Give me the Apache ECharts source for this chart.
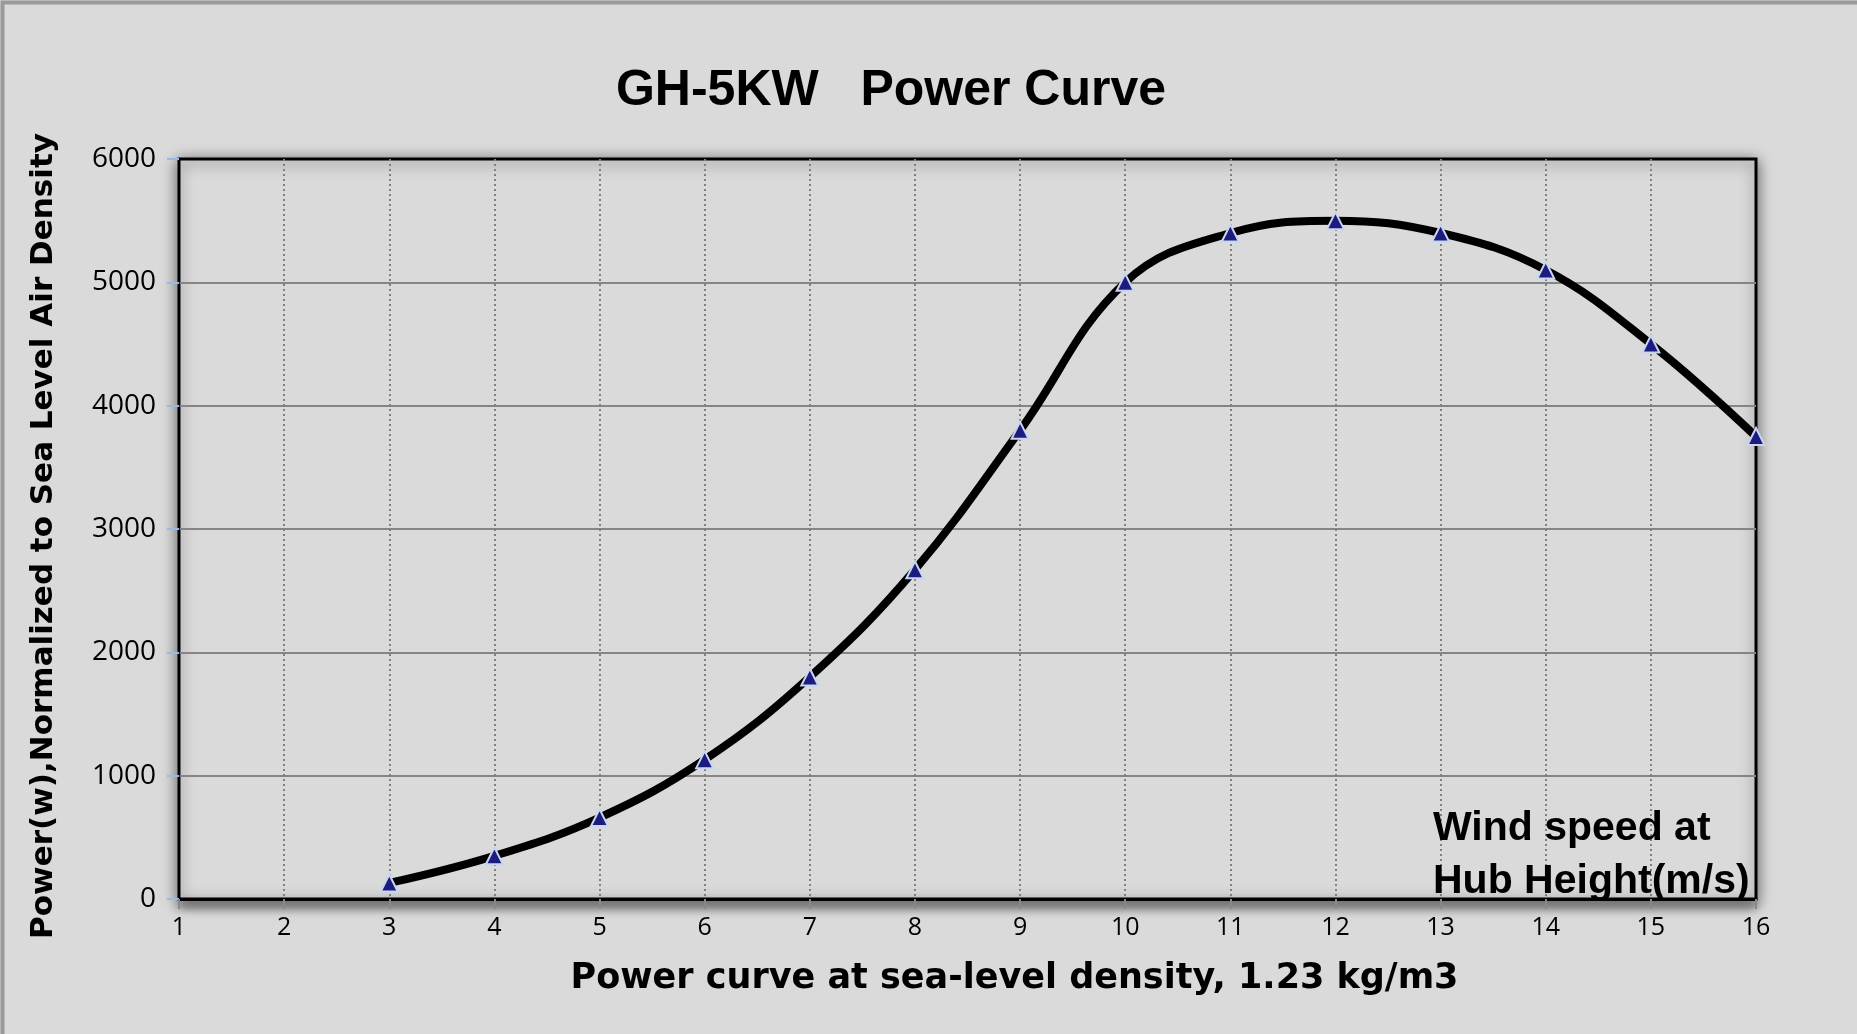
<!DOCTYPE html>
<html lang="en" style="height: 100%">
<head>
  <meta charset="utf-8">
</head>
<body style="height: 100%; margin: 0; background: #dadada">
  <div id="container" style="height: 100%"></div>
  <script type="text/javascript" src="https://fastly.jsdelivr.net/npm/echarts@6.0.0/dist/echarts.min.js"></script>
  <script type="text/javascript">
    // wind speed (m/s) at hub height
    var windSpeed = [3, 4, 5, 6, 7, 8, 9, 10, 11, 12, 13, 14, 15, 16];
    // power (w)
    var power = [130, 350, 660, 1130, 1800, 2670, 3800, 5000, 5400, 5500, 5400, 5100, 4500, 3750];
    var xTicks = [1, 2, 3, 4, 5, 6, 7, 8, 9, 10, 11, 12, 13, 14, 15, 16];
    var yTicks = [0, 1000, 2000, 3000, 4000, 5000, 6000];

    var chartTitle = 'GH-5KW   Power Curve';
    var xName = 'Power curve at sea-level density, 1.23 kg/m3';
    var yName = 'Power(w),Normalized to Sea Level Air Density';
    var note = 'Wind speed at\nHub Height(m/s)';

    var dom = document.getElementById('container');
    var myChart = echarts.init(dom, null, { renderer: 'canvas' });

    var points = windSpeed.map(function (w, i) { return [w, power[i]]; });

    var option = {
      backgroundColor: '#dadada',
      animation: false,
      title: {
        text: chartTitle,
        left: 886,
        top: 86,
        textAlign: 'center',
        textVerticalAlign: 'middle',
        textStyle: {
          fontFamily: 'Liberation Sans',
          fontWeight: 'bold',
          fontSize: 50,
          color: '#000'
        }
      },
      grid: {
        show: true,
        left: 179,
        right: 101,
        top: 159,
        bottom: 135,
        backgroundColor: '#dadada',
        borderColor: '#000',
        borderWidth: 3,
        shadowColor: 'rgba(0,0,0,0.55)',
        shadowBlur: 14,
        shadowOffsetY: 3
      },
      xAxis: {
        type: 'value',
        min: xTicks[0],
        max: xTicks[xTicks.length - 1],
        interval: 1,
        name: xName,
        nameLocation: 'middle',
        nameGap: 62,
        nameTextStyle: {
          fontFamily: 'DejaVu Sans',
          fontWeight: 'bold',
          fontSize: 35,
          color: '#000',
          padding: [0, 0, 0, 94]
        },
        axisLine: {
          onZero: false,
          lineStyle: {
            color: '#000',
            width: 3,
            shadowColor: 'rgba(0,0,0,0.7)',
            shadowBlur: 8,
            shadowOffsetY: 6
          }
        },
        axisTick: { show: true, length: 10, lineStyle: { color: '#888', width: 2 } },
        axisLabel: {
          margin: 16,
          fontFamily: 'Open Sans',
          fontSize: 25,
          color: '#000'
        },
        splitLine: {
          show: true,
          showMinLine: false,
          showMaxLine: false,
          lineStyle: { color: '#808080', width: 2, type: [2, 3] }
        }
      },
      yAxis: {
        type: 'value',
        min: yTicks[0],
        max: yTicks[yTicks.length - 1],
        interval: 1000,
        name: yName,
        nameLocation: 'middle',
        nameGap: 120,
        nameTextStyle: {
          fontFamily: 'DejaVu Sans',
          fontWeight: 'bold',
          fontSize: 31,
          color: '#000',
          padding: [0, 14, 0, 0]
        },
        axisLine: { show: true, lineStyle: { color: '#000', width: 1.5 } },
        axisTick: { show: true, length: 12, lineStyle: { color: '#9ab8e8', width: 2 } },
        axisLabel: {
          margin: 23,
          fontFamily: 'Open Sans',
          fontSize: 28,
          color: '#000',
          formatter: function (v) { return String(v); }
        },
        splitLine: {
          show: true,
          showMinLine: false,
          showMaxLine: false,
          lineStyle: { color: '#858585', width: 2 }
        }
      },
      graphic: [
        {
          type: 'rect',
          left: 0,
          top: 0,
          shape: { width: 1857, height: 1034 },
          style: { fill: 'none', stroke: '#9a9a9a', lineWidth: 4 },
          silent: true,
          z: 100
        },
        {
          type: 'text',
          left: 1433,
          top: 802,
          style: {
            text: note,
            fontFamily: 'Liberation Sans',
            fontWeight: 'bold',
            fontSize: 41,
            lineHeight: 53,
            fill: '#000'
          },
          z: 100
        }
      ],
      series: [
        {
          name: 'Power',
          type: 'line',
          data: points,
          smooth: 0.4,
          symbol: 'triangle',
          symbolSize: 17,
          lineStyle: { color: '#000', width: 8 },
          itemStyle: { color: '#1c1c80', borderColor: '#c8d6f0', borderWidth: 2 },
          z: 5
        }
      ]
    };

    myChart.setOption(option);
    window.addEventListener('resize', myChart.resize);
  </script>
</body>
</html>
